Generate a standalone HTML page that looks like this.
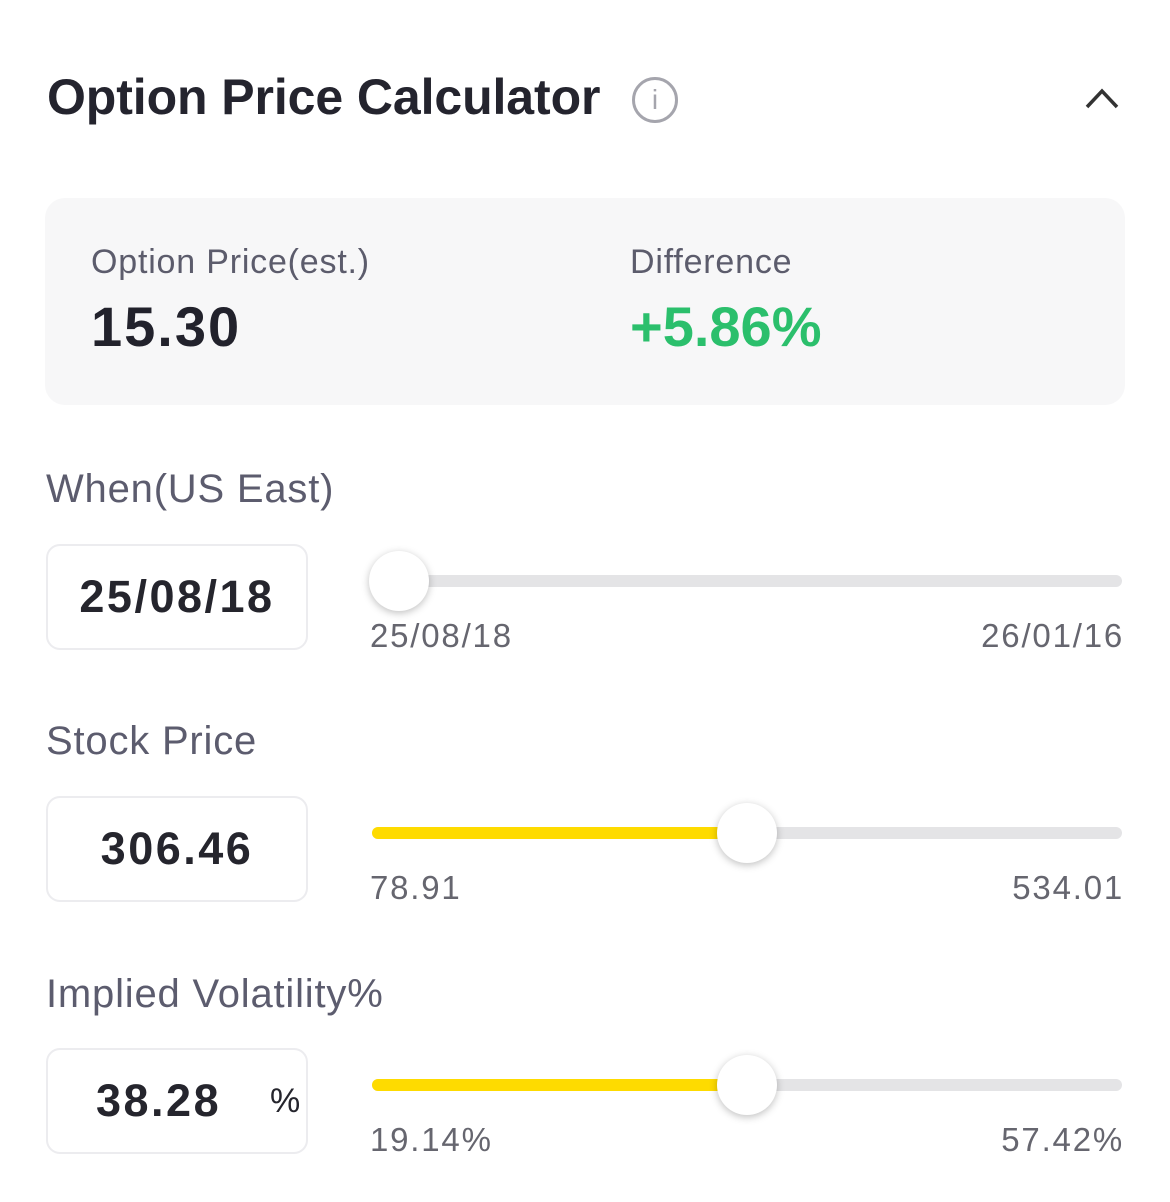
<!DOCTYPE html>
<html><head><meta charset="utf-8">
<style>
*{box-sizing:border-box;margin:0;padding:0}
body{width:1170px;height:1202px;background:#fff;font-family:"Liberation Sans",sans-serif;position:relative;overflow:hidden;color:#22222c}
.abs{position:absolute}
.title{left:47px;top:68px;font-size:50px;font-weight:bold;color:#24242e;letter-spacing:-0.1px}
.info{left:632px;top:77px;width:46px;height:46px;border:3px solid #a5a5ad;border-radius:50%;color:#a5a5ad;font-size:28px;text-align:center;line-height:40px}
.box{left:45px;top:198px;width:1080px;height:207px;background:#f7f7f8;border-radius:20px}
.lbl{font-size:34px;color:#5c5c6c;letter-spacing:0.8px}
.big{font-size:56px;font-weight:bold}
.sec{left:46px;font-size:40px;color:#5c5c6e;letter-spacing:0.8px}
.inp{left:46px;width:262px;height:106px;border:2px solid #ececef;border-radius:14px;font-size:45px;font-weight:bold;color:#25252d;display:flex;align-items:center;justify-content:center;letter-spacing:2.5px}
.track{left:372px;width:750px;height:12px;background:#e4e4e6;border-radius:6px}
.fill{position:absolute;left:0;top:0;height:12px;background:#fedb00;border-radius:6px}
.thumb{width:60px;height:60px;border-radius:50%;background:#fff;box-shadow:0 2px 8px rgba(0,0,0,0.25);position:absolute;top:-24px}
.rng{font-size:33px;color:#66666f;letter-spacing:1.8px}
</style></head><body>
<div class="abs title">Option Price Calculator</div>
<div class="abs info">i</div>
<svg class="abs" style="left:1084px;top:86px" width="36" height="24"><polyline points="3,21 18,5 33,21" fill="none" stroke="#333" stroke-width="3.5"/></svg>
<div class="abs box"></div>
<div class="abs lbl" style="left:91px;top:243px">Option Price(est.)</div>
<div class="abs big" style="left:91px;top:294px;letter-spacing:2px">15.30</div>
<div class="abs lbl" style="left:630px;top:243px">Difference</div>
<div class="abs big" style="left:630px;top:294px;color:#2bbf6c">+5.86%</div>

<div class="abs sec" style="top:467px">When(US East)</div>
<div class="abs inp" style="top:544px">25/08/18</div>
<div class="abs track" id="t0" style="top:575px"><div class="fill" style="background:transparent"></div><div class="thumb"></div></div>
<div class="abs rng" style="left:370px;top:617px">25/08/18</div>
<div class="abs rng" style="right:46px;top:617px">26/01/16</div>

<div class="abs sec" style="top:719px">Stock Price</div>
<div class="abs inp" style="top:796px">306.46</div>
<div class="abs track" id="t1" style="top:827px"><div class="fill"></div><div class="thumb"></div></div>
<div class="abs rng" style="left:370px;top:869px">78.91</div>
<div class="abs rng" style="right:46px;top:869px">534.01</div>

<div class="abs sec" style="top:972px">Implied Volatility%</div>
<div class="abs inp" style="top:1048px;justify-content:flex-start;padding-left:48px">38.28<span style="position:absolute;left:222px;font-size:34px;font-weight:normal;letter-spacing:0">%</span></div>
<div class="abs track" id="t2" style="top:1079px"><div class="fill"></div><div class="thumb"></div></div>
<div class="abs rng" style="left:370px;top:1121px">19.14%</div>
<div class="abs rng" style="right:46px;top:1121px">57.42%</div>
<script>
const sliderMins=[0,78.91,19.14];
const sliderMaxs=[1,534.01,57.42];
const sliderValues=[0,306.46,38.28];
const W=750;
sliderValues.forEach(function(v,i){
  const t=document.getElementById('t'+i);
  const f=(v-sliderMins[i])/(sliderMaxs[i]-sliderMins[i]);
  const x=f*W;
  t.querySelector('.fill').style.width=x+'px';
  t.querySelector('.thumb').style.left=(x-30+(i===0?27:0))+'px';
});
</script>
</body></html>
